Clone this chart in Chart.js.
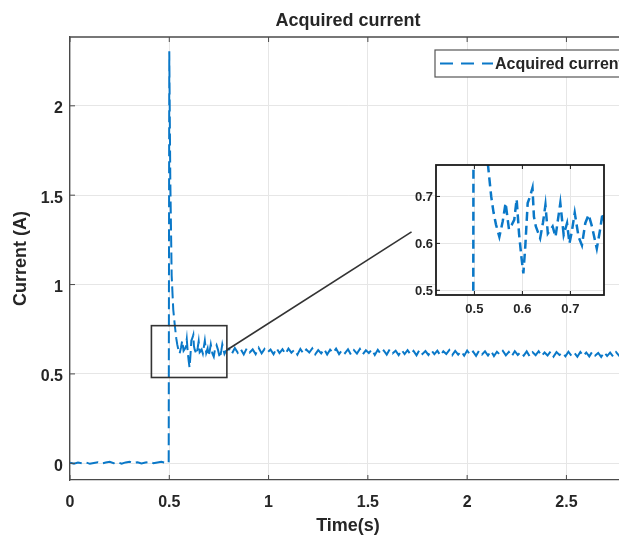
<!DOCTYPE html>
<html>
<head>
<meta charset="utf-8">
<script src="https://cdn.jsdelivr.net/npm/chart.js@4.4.0/dist/chart.umd.min.js"></script>
<style>
    html, body { margin: 0; padding: 0; background: #fff; overflow: hidden; }
    #wrap { position: relative; width: 619px; height: 539px; overflow: hidden; }
    #main { position: absolute; left: 0; top: 0; }
    #inset { position: absolute; left: 395px; top: 150px; }
</style>
</head>
<body>
<div id="wrap">
    <canvas id="main" width="640" height="539"></canvas>
    <canvas id="inset" width="225" height="175"></canvas>
</div>
<script>
// valores
const time = [
    0.00, 0.02, 0.04, 0.06, 0.08, 0.10, 0.12, 0.14, 0.16, 0.18, 0.20, 0.22, 0.24,
    0.26, 0.28, 0.30, 0.32, 0.34, 0.36, 0.38, 0.40, 0.42, 0.44, 0.46, 0.48, 0.497,
    0.500, 0.505, 0.512, 0.520, 0.528, 0.535, 0.540,
    0.545, 0.552, 0.559, 0.565, 0.572, 0.578, 0.583, 0.588, 0.593, 0.598, 0.602,
    0.606, 0.611, 0.616, 0.621, 0.624, 0.628, 0.632, 0.637, 0.643, 0.648, 0.653,
    0.658, 0.663, 0.669, 0.674, 0.679, 0.686, 0.693, 0.698, 0.703, 0.709, 0.717,
    0.724, 0.731, 0.738, 0.745, 0.750, 0.755, 0.762, 0.767, 0.772, 0.778, 0.785,
    0.800, 0.815, 0.830, 0.845, 0.860, 0.875, 0.890, 0.905, 0.920, 0.935,
    0.950, 0.965, 0.980, 0.995, 1.010, 1.025, 1.040, 1.055, 1.070, 1.085,
    1.100, 1.115, 1.130, 1.145, 1.160, 1.175, 1.190, 1.205, 1.220, 1.235,
    1.250, 1.265, 1.280, 1.295, 1.310, 1.325, 1.340, 1.355, 1.370, 1.385,
    1.400, 1.415, 1.430, 1.445, 1.460, 1.475, 1.490, 1.505, 1.520, 1.535,
    1.550, 1.565, 1.580, 1.595, 1.610, 1.625, 1.640, 1.655, 1.670, 1.685,
    1.700, 1.715, 1.730, 1.745, 1.760, 1.775, 1.790, 1.805, 1.820, 1.835,
    1.850, 1.865, 1.880, 1.895, 1.910, 1.925, 1.940, 1.955, 1.970, 1.985,
    2.000, 2.015, 2.030, 2.045, 2.060, 2.075, 2.090, 2.105, 2.120, 2.135,
    2.150, 2.165, 2.180, 2.195, 2.210, 2.225, 2.240, 2.255, 2.270, 2.285,
    2.300, 2.315, 2.330, 2.345, 2.360, 2.375, 2.390, 2.405, 2.420, 2.435,
    2.450, 2.465, 2.480, 2.495, 2.510, 2.525, 2.540, 2.555, 2.570, 2.585,
    2.600, 2.615, 2.630, 2.645, 2.660, 2.675, 2.690, 2.705, 2.720, 2.735,
    2.750, 2.765, 2.780, 2.795, 2.810
];
const current = [
    0.003, -0.002, 0.004, 0.000, 0.005, -0.003, 0.002, 0.006, -0.001, 0.004, 0.008, 0.001, 0.006,
    -0.002, 0.005, 0.009, 0.002, 0.006, -0.001, 0.004, 0.007, 0.001, 0.005, 0.008, 0.003, 0.004,
    2.305, 1.60, 1.05, 0.86, 0.77, 0.70, 0.665,
    0.640, 0.614, 0.647, 0.686, 0.630, 0.640, 0.650, 0.694, 0.621, 0.570, 0.536,
    0.593, 0.686, 0.700, 0.718, 0.657, 0.636, 0.625, 0.611, 0.645, 0.682, 0.621,
    0.628, 0.636, 0.614, 0.650, 0.686, 0.618, 0.643, 0.600, 0.625, 0.665, 0.614,
    0.596, 0.643, 0.661, 0.636, 0.612, 0.589, 0.630, 0.665, 0.640, 0.612, 0.628,
    0.641, 0.612, 0.645, 0.618, 0.639, 0.609, 0.643, 0.620, 0.637, 0.611,
    0.646, 0.615, 0.640, 0.621, 0.636, 0.610, 0.644, 0.617, 0.638, 0.612,
    0.642, 0.619, 0.635, 0.608, 0.640, 0.614, 0.637, 0.620, 0.643, 0.610,
    0.633, 0.615, 0.639, 0.609, 0.636, 0.618, 0.641, 0.611, 0.634, 0.616,
    0.638, 0.607, 0.633, 0.614, 0.640, 0.610, 0.632, 0.617, 0.636, 0.606,
    0.635, 0.612, 0.631, 0.608, 0.637, 0.615, 0.630, 0.605, 0.634, 0.611,
    0.633, 0.609, 0.629, 0.604, 0.635, 0.612, 0.628, 0.606, 0.632, 0.610,
    0.630, 0.603, 0.627, 0.611, 0.633, 0.605, 0.629, 0.608, 0.626, 0.602,
    0.631, 0.607, 0.625, 0.601, 0.630, 0.609, 0.626, 0.603, 0.628, 0.600,
    0.624, 0.608, 0.629, 0.604, 0.623, 0.599, 0.627, 0.606, 0.622, 0.602,
    0.626, 0.598, 0.621, 0.605, 0.627, 0.600, 0.620, 0.603, 0.625, 0.597,
    0.622, 0.606, 0.619, 0.599, 0.624, 0.602, 0.618, 0.596, 0.623, 0.601,
    0.620, 0.598, 0.624, 0.603, 0.617, 0.595, 0.621, 0.600, 0.619, 0.597,
    0.622, 0.602, 0.616, 0.596, 0.620
];
const xTicks = [0, 0.5, 1, 1.5, 2, 2.5];
const yTicks = [0, 0.5, 1, 1.5, 2];
const insetXTicks = [0.5, 0.6, 0.7];
const insetYTicks = [0.5, 0.6, 0.7];

const FONT = "'Liberation Sans', Arial, Helvetica, sans-serif";
const TXT = "#262626";
const BLUE = "#0a78c8";
const GRID = "#e6e6e6";

// janela do zoom e linha ate o inset (em valores dos eixos)
const boxX = [0.41, 0.79];
const boxY = [0.48, 0.77];
const linkFrom = [0.79, 0.634];
const linkTo = [1.72, 1.295];

const points = time.map((t, i) => ({ x: t, y: current[i] }));

function fixTicks(list) {
    return function (scale) {
        scale.ticks = list.map(v => ({ value: v }));
    };
}

function drawInwardTicks(ctx, chart, xs, ys, len, top) {
    const a = chart.chartArea;
    ctx.beginPath();
    xs.forEach(v => {
        const px = chart.scales.x.getPixelForValue(v);
        ctx.moveTo(px, a.bottom);
        ctx.lineTo(px, a.bottom - len);
        if (top) {
            ctx.moveTo(px, a.top);
            ctx.lineTo(px, a.top + len);
        }
    });
    ys.forEach(v => {
        const py = chart.scales.y.getPixelForValue(v);
        ctx.moveTo(a.left, py);
        ctx.lineTo(a.left + len, py);
    });
    ctx.stroke();
}

const mainFrame = {
    id: "mainFrame",
    afterDatasetsDraw(chart) {
        const ctx = chart.ctx;
        const x = chart.scales.x, y = chart.scales.y;
        ctx.save();
        ctx.strokeStyle = "#333";
        ctx.lineWidth = 1.6;
        const x0 = x.getPixelForValue(boxX[0]), x1 = x.getPixelForValue(boxX[1]);
        const y0 = y.getPixelForValue(boxY[1]), y1 = y.getPixelForValue(boxY[0]);
        ctx.strokeRect(x0, y0, x1 - x0, y1 - y0);
        ctx.beginPath();
        ctx.moveTo(x.getPixelForValue(linkFrom[0]), y.getPixelForValue(linkFrom[1]));
        ctx.lineTo(x.getPixelForValue(linkTo[0]), y.getPixelForValue(linkTo[1]));
        ctx.stroke();
        ctx.restore();
    },
    afterDraw(chart) {
        const ctx = chart.ctx;
        const a = chart.chartArea;
        ctx.save();
        ctx.strokeStyle = "#4a4a4a";
        ctx.lineWidth = 1.3;
        ctx.beginPath();
        ctx.moveTo(a.left, a.top);
        ctx.lineTo(a.right, a.top);
        ctx.stroke();
        ctx.lineWidth = 1;
        drawInwardTicks(ctx, chart, xTicks, yTicks, 5, true);

        // legenda dentro do grafico
        const lx = a.left + 365, ly = a.top + 13, lh = 27;
        ctx.fillStyle = "#fff";
        ctx.fillRect(lx, ly, 200, lh);
        ctx.strokeStyle = "#555";
        ctx.lineWidth = 1.2;
        ctx.strokeRect(lx, ly, 200, lh);
        ctx.strokeStyle = BLUE;
        ctx.lineWidth = 2.2;
        ctx.setLineDash([13, 8]);
        ctx.beginPath();
        ctx.moveTo(lx + 5, ly + lh / 2);
        ctx.lineTo(lx + 58, ly + lh / 2);
        ctx.stroke();
        ctx.setLineDash([]);
        ctx.fillStyle = TXT;
        ctx.font = "bold 16px " + FONT;
        ctx.textBaseline = "middle";
        ctx.fillText("Acquired current", lx + 60, ly + lh / 2 + 1);
        ctx.restore();
    }
};

new Chart(document.getElementById("main"), {
    type: "line",
    data: {
        datasets: [
            {
                label: "Acquired current",
                data: points,
                borderColor: BLUE,
                borderWidth: 2,
                borderDash: [12, 5],
                pointRadius: 0,
                tension: 0
            }
        ]
    },
    options: {
        responsive: false,
        animation: false,
        layout: { padding: { left: 0, right: 14, top: 0, bottom: 0 } },
        plugins: {
            legend: { display: false },
            tooltip: { enabled: false },
            title: {
                display: true,
                text: "Acquired current",
                fullSize: false,
                color: TXT,
                font: { family: FONT, size: 18, weight: "bold" },
                padding: { top: 10, bottom: 5.4 }
            }
        },
        scales: {
            x: {
                type: "linear",
                min: 0,
                max: 2.8,
                afterBuildTicks: fixTicks(xTicks),
                afterFit: s => { s.height = 59; },
                ticks: {
                    color: TXT,
                    font: { family: FONT, size: 16, weight: "bold" },
                    padding: 13,
                    maxRotation: 0,
                    callback: v => String(v)
                },
                grid: { color: GRID, drawTicks: false },
                border: { color: "#4a4a4a", width: 1.3 },
                title: {
                    display: true,
                    text: "Time(s)",
                    color: TXT,
                    font: { family: FONT, size: 18, weight: "bold" },
                    padding: { top: 0, bottom: 2 }
                }
            },
            y: {
                min: -0.0935,
                max: 2.385,
                afterBuildTicks: fixTicks(yTicks),
                afterFit: s => { s.width = 70; },
                ticks: {
                    color: TXT,
                    font: { family: FONT, size: 16, weight: "bold" },
                    padding: 7,
                    labelOffset: 3,
                    callback: v => String(v)
                },
                grid: { color: GRID, drawTicks: false },
                border: { color: "#4a4a4a", width: 1.3 },
                title: {
                    display: true,
                    text: "Current (A)",
                    color: TXT,
                    font: { family: FONT, size: 18, weight: "bold" },
                    padding: { top: 10, bottom: 0 }
                }
            }
        }
    },
    plugins: [mainFrame]
});

const insetFrame = {
    id: "insetFrame",
    beforeDraw(chart) {
        const a = chart.chartArea;
        chart.ctx.save();
        chart.ctx.fillStyle = "#fff";
        chart.ctx.fillRect(a.left, a.top, a.right - a.left, a.bottom - a.top);
        chart.ctx.restore();
    },
    afterDatasetsDraw(chart) {
        const ctx = chart.ctx;
        const a = chart.chartArea;
        ctx.save();
        ctx.strokeStyle = "#1a1a1a";
        ctx.lineWidth = 1;
        drawInwardTicks(ctx, chart, insetXTicks, insetYTicks, 4, true);
        ctx.lineWidth = 1.8;
        ctx.strokeRect(a.left, a.top, a.right - a.left, a.bottom - a.top);
        ctx.restore();
    }
};

new Chart(document.getElementById("inset"), {
    type: "line",
    data: {
        datasets: [
            {
                data: points,
                borderColor: BLUE,
                borderWidth: 2.5,
                borderDash: [9, 5],
                pointRadius: 0,
                tension: 0
            }
        ]
    },
    options: {
        responsive: false,
        animation: false,
        layout: { padding: { left: 0, right: 16, top: 15, bottom: 0 } },
        plugins: {
            legend: { display: false },
            tooltip: { enabled: false },
            title: { display: false }
        },
        scales: {
            x: {
                type: "linear",
                min: 0.42,
                max: 0.77,
                afterBuildTicks: fixTicks(insetXTicks),
                afterFit: s => { s.height = 30; },
                ticks: {
                    color: TXT,
                    font: { family: FONT, size: 13, weight: "bold" },
                    padding: 7,
                    maxRotation: 0,
                    callback: v => v.toFixed(1)
                },
                grid: { color: GRID, drawTicks: false },
                border: { display: false }
            },
            y: {
                min: 0.49,
                max: 0.767,
                afterBuildTicks: fixTicks(insetYTicks),
                afterFit: s => { s.width = 41; },
                ticks: {
                    color: TXT,
                    font: { family: FONT, size: 13, weight: "bold" },
                    padding: 3,
                    labelOffset: 1,
                    callback: v => v.toFixed(1)
                },
                grid: { color: GRID, drawTicks: false },
                border: { display: false }
            }
        }
    },
    plugins: [insetFrame]
});
</script>
</body>
</html>
